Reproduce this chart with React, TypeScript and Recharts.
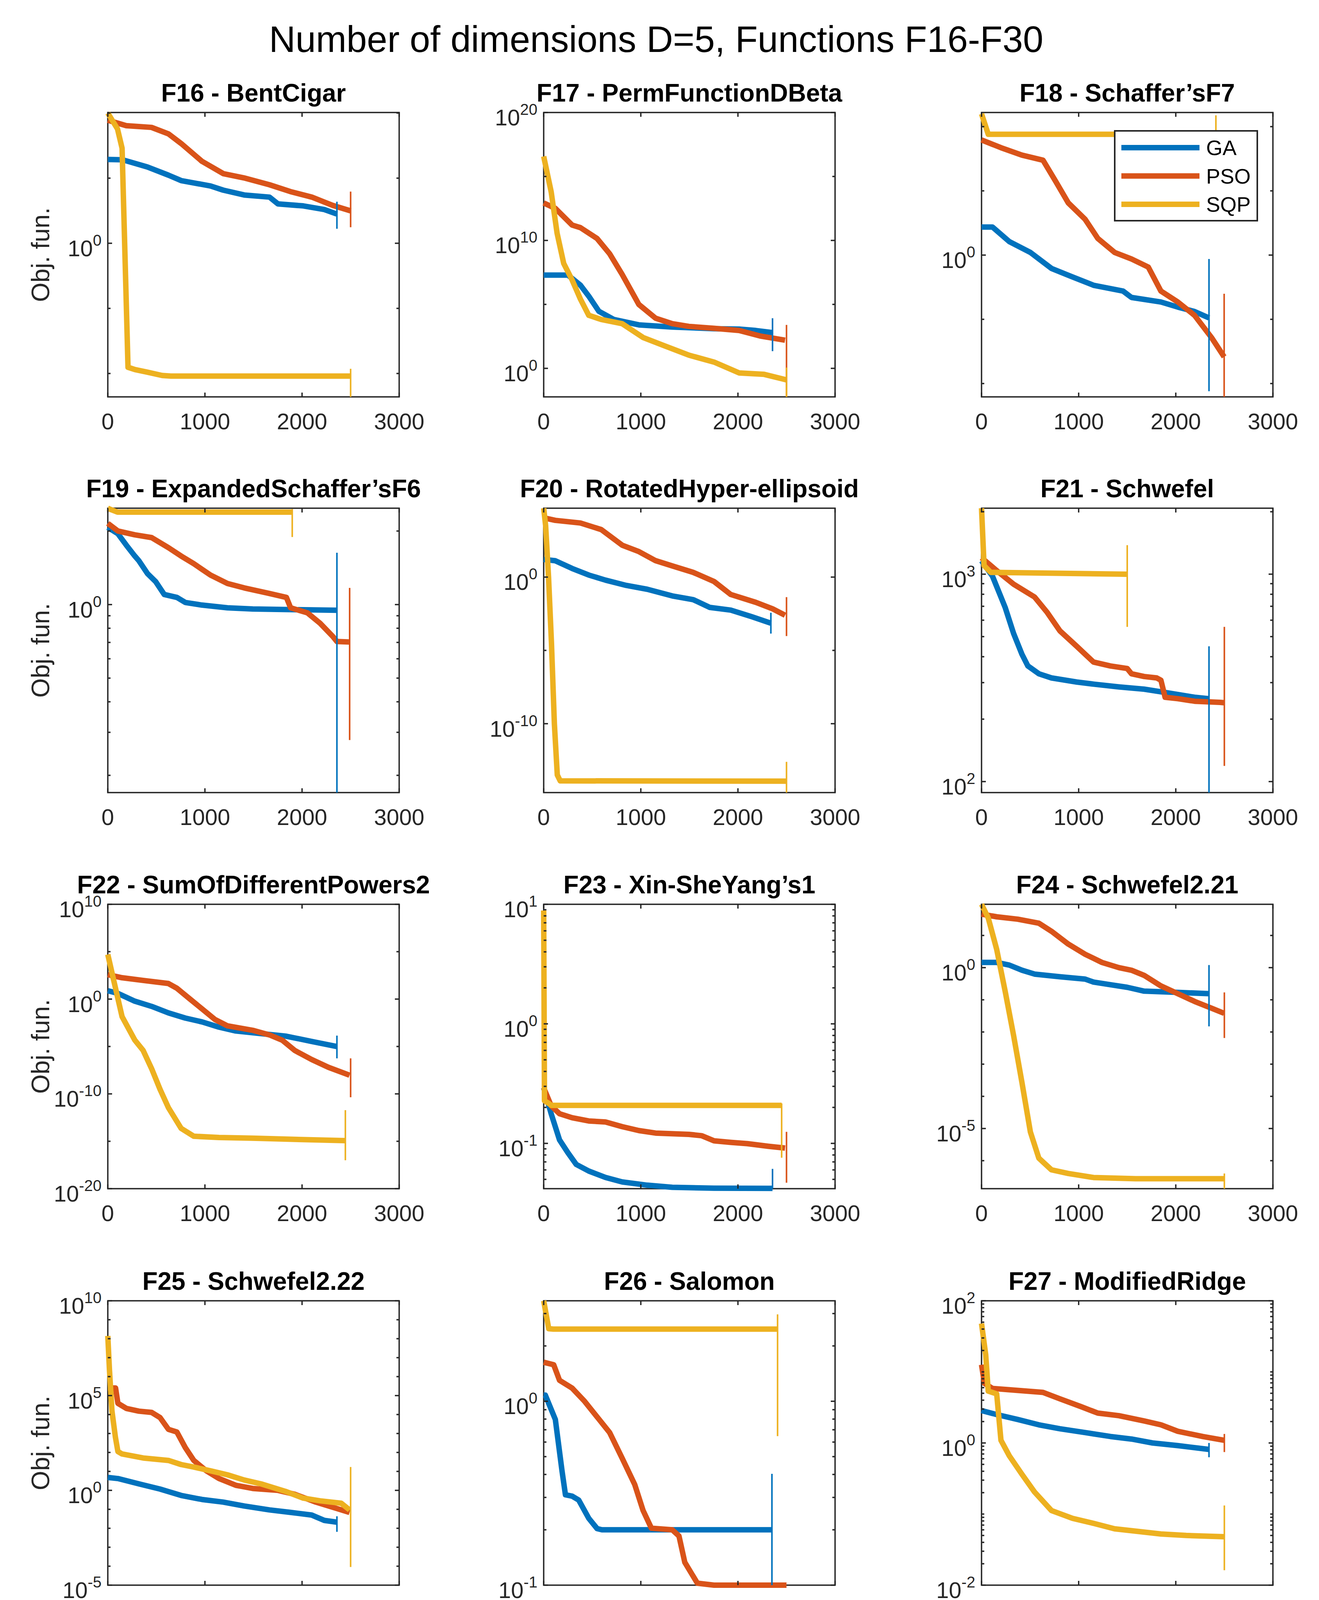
import React from 'react';
import { LineChart, Line, XAxis, YAxis, ReferenceArea, Legend } from 'recharts';

type Pt = [number, number];
type End = [string, number, number, number];

const FONT = '"Liberation Sans", Arial, Helvetica, sans-serif';
const AX = '#262626';
const SERIES_NAMES = ['GA', 'PSO', 'SQP'];
const SERIES_COLORS: Record<string, string> = { GA: '#0072BD', PSO: '#D95319', SQP: '#EDB120' };

const FIG_TITLE = 'Number of dimensions D=5, Functions F16-F30';
const Y_LABEL = 'Obj. fun.';
const X_LABEL = 'Function evaluations';
const X_TICKS = [0, 1000, 2000, 3000];

// ---------------- data ----------------
const F16_GA: Pt[] = [[0, 2.7e6], [150, 2.6e6], [408, 7.2e5], [624, 1.7e5], [755, 6.5e4], [1058, 2.5e4], [1188, 1.2e4], [1405, 5.1e3], [1665, 3.5e3], [1752, 1.05e3], [2012, 740], [2229, 390], [2359, 175]];
const F16_PSO: Pt[] = [[0, 2.8e9], [190, 1.07e9], [450, 7.9e8], [625, 2.5e8], [755, 4.6e7], [970, 1.95e6], [1190, 2.2e5], [1400, 1.05e5], [1665, 3.1e4], [1880, 9.3e3], [2100, 3.5e3], [2315, 810], [2500, 310]];
const F16_SQP: Pt[] = [[0, 1e10], [100, 6e8], [147, 2e7], [165, 220], [185, 7e-4], [208, 3e-10], [280, 2e-10], [400, 1.3e-10], [560, 7e-11], [650, 6.3e-11], [2500, 6.3e-11]];
const F16_END: End[] = [['GA', 2359, 1.55e3, 13], ['PSO', 2500, 9.3e3, 17], ['SQP', 2500, 2.3e-10, 1.6e-12]];
const F16_TICKS = [1e-10, 1e-5, 1, 1e5, 1e10];
const F16_LABELS = [1];

const F17_GA: Pt[] = [[0, 1.95e7], [250, 1.95e7], [378, 3.2e6], [464, 4.4e5], [568, 2.9e4], [722, 6.6e3], [980, 2.5e3], [1324, 1.7e3], [1754, 1.26e3], [2012, 1.17e3], [2184, 910], [2356, 620]];
const F17_PSO: Pt[] = [[0, 8.5e12], [120, 3.2e12], [292, 1.6e11], [378, 1e11], [550, 1.4e10], [679, 9.1e8], [808, 2.2e7], [980, 9.8e4], [1152, 8.3e3], [1324, 3.1e3], [1496, 1.9e3], [1754, 1.35e3], [2012, 910], [2227, 340], [2485, 160]];
const F17_SQP: Pt[] = [[0, 3.7e16], [77, 6.3e13], [138, 3.7e10], [206, 1.6e8], [292, 8.3e6], [378, 2.6e5], [464, 1.4e4], [593, 6.6e3], [808, 3.1e3], [1023, 260], [1238, 60], [1496, 10.7], [1754, 3.1], [2012, 0.44], [2270, 0.34], [2500, 0.126]];
const F17_END: End[] = [['GA', 2356, 8.3e3, 22], ['PSO', 2500, 2.5e3, 5.9e-3], ['SQP', 2500, 1.15, 5.9e-3]];
const F17_TICKS = [1, 1e5, 1e10, 1e15, 1e20];
const F17_LABELS = [1, 1e10, 1e20];

const F18_GA: Pt[] = [[0, 2.73], [113, 2.73], [286, 1.62], [503, 1.1], [720, 0.62], [937, 0.457], [1153, 0.339], [1457, 0.275], [1544, 0.219], [1847, 0.186], [2021, 0.155], [2194, 0.132], [2342, 0.105]];
const F18_PSO: Pt[] = [[0, 62], [200, 47], [416, 36], [633, 30], [763, 14.1], [893, 6.5], [1067, 3.6], [1197, 1.82], [1370, 1.1], [1544, 0.87], [1717, 0.65], [1847, 0.275], [2021, 0.186], [2194, 0.115], [2368, 0.052], [2498, 0.026]];
const F18_SQP: Pt[] = [[0, 158], [69, 76], [2413, 76]];
const F18_END: End[] = [['GA', 2342, 0.87, 7.6e-3], ['PSO', 2498, 0.25, 6.2e-3], ['SQP', 2413, 150, 20]];
const F18_TICKS = [0.01, 0.1, 1, 10, 100];
const F18_LABELS = [1];

const F19_GA: Pt[] = [[0, 2.07], [104, 1.95], [191, 1.75], [278, 1.58], [321, 1.51], [408, 1.34], [494, 1.24], [581, 1.1], [711, 1.07], [798, 1.02], [971, 0.995], [1232, 0.97], [1492, 0.959], [1925, 0.953], [2359, 0.948]];
const F19_PSO: Pt[] = [[0, 2.15], [104, 2.0], [278, 1.93], [451, 1.88], [624, 1.71], [755, 1.58], [885, 1.47], [1058, 1.32], [1232, 1.22], [1405, 1.17], [1665, 1.11], [1839, 1.07], [1882, 0.97], [2055, 0.925], [2186, 0.838], [2316, 0.741], [2359, 0.706], [2490, 0.703]];
const F19_SQP: Pt[] = [[0, 2.48], [30, 2.45], [100, 2.39], [1899, 2.39]];
const F19_END: End[] = [['GA', 2359, 1.63, 0.17], ['PSO', 2490, 1.17, 0.279], ['SQP', 1899, 2.46, 1.89]];
const F19_TICKS = [0.2, 0.3, 0.4, 0.5, 0.6, 0.7, 0.8, 0.9, 1, 2];
const F19_LABELS = [1];

const F20_GA: Pt[] = [[0, 16], [120, 13], [292, 3.9], [464, 1.38], [636, 0.62], [851, 0.27], [1066, 0.148], [1324, 0.052], [1539, 0.029], [1711, 8.5e-3], [1926, 5.6e-3], [2141, 2e-3], [2339, 7.2e-4]];
const F20_PSO: Pt[] = [[0, 1.1e4], [120, 7.4e3], [378, 4.9e3], [593, 1.74e3], [808, 150], [980, 55], [1152, 13.2], [1324, 5.8], [1539, 2.1], [1754, 0.5], [1926, 0.065], [2184, 0.019], [2356, 6.9e-3], [2485, 2.5e-3]];
const F20_SQP: Pt[] = [[0, 5e4], [20, 3.2e3], [50, 1], [80, 3.2e-5], [110, 1e-10], [140, 3.2e-14], [170, 1.26e-14], [2500, 1.2e-14]];
const F20_END: End[] = [['GA', 2339, 3.7e-3, 1.4e-4], ['PSO', 2500, 0.043, 9.5e-5], ['SQP', 2500, 2.5e-13, 2e-15]];
const F20_TICKS = [1e-10, 1e-5, 1];
const F20_LABELS = [1e-10, 1];

const F21_GA: Pt[] = [[0, 1160], [113, 977], [243, 692], [330, 518], [416, 411], [477, 361], [590, 331], [720, 316], [980, 302], [1153, 295], [1414, 286], [1674, 279], [1934, 267], [2194, 255], [2342, 251]];
const F21_PSO: Pt[] = [[0, 1200], [156, 1040], [330, 895], [546, 776], [677, 653], [807, 533], [980, 449], [1067, 411], [1153, 377], [1327, 361], [1500, 351], [1544, 331], [1674, 321], [1804, 316], [1847, 308], [1890, 255], [2021, 251], [2194, 244], [2454, 241], [2500, 240]];
const F21_SQP: Pt[] = [[0, 2080], [26, 1100], [95, 1020], [1500, 1000]];
const F21_END: End[] = [['GA', 2342, 449, 88.5], ['PSO', 2500, 557, 119], ['SQP', 1500, 1380, 557]];
const F21_TICKS = [100, 200, 300, 400, 500, 600, 700, 800, 900, 1000, 2000];
const F21_LABELS = [100, 1000];

const F22_GA: Pt[] = [[0, 7.6], [104, 4.0], [278, 0.6], [451, 0.17], [624, 0.035], [798, 0.01], [971, 3.9e-3], [1145, 1.1e-3], [1318, 4.3e-4], [1578, 2.3e-4], [1839, 1.2e-4], [2099, 3.4e-5], [2359, 9.8e-6]];
const F22_PSO: Pt[] = [[0, 380], [147, 178], [364, 93], [624, 44], [711, 14], [841, 1.12], [971, 0.091], [1102, 7.2e-3], [1232, 1.5e-3], [1492, 5.1e-4], [1665, 1.66e-4], [1795, 4.7e-5], [1925, 3.8e-6], [2099, 4.2e-7], [2272, 6.3e-8], [2489, 9.3e-9]];
const F22_SQP: Pt[] = [[0, 5.1e4], [61, 93], [147, 0.014], [278, 4.7e-5], [364, 3.8e-6], [451, 4.6e-8], [538, 3e-10], [624, 3.5e-12], [755, 2.3e-14], [885, 3.4e-15], [1145, 2.5e-15], [1492, 2.1e-15], [1925, 1.6e-15], [2446, 1.17e-15]];
const F22_END: End[] = [['GA', 2359, 1.4e-4, 5.6e-7], ['PSO', 2500, 5.6e-7, 4.4e-11], ['SQP', 2446, 1.9e-12, 1e-17]];
const F22_TICKS = [1e-20, 1e-15, 1e-10, 1e-5, 1, 1e5, 1e10];
const F22_LABELS = [1e-20, 1e-10, 1, 1e10];

const F23_GA: Pt[] = [[0, 0.292], [77, 0.177], [163, 0.107], [249, 0.0836], [335, 0.0667], [464, 0.0587], [636, 0.0519], [808, 0.0476], [1066, 0.0447], [1324, 0.0429], [1754, 0.0422], [2356, 0.042]];
const F23_PSO: Pt[] = [[0, 0.292], [77, 0.206], [163, 0.177], [292, 0.164], [464, 0.154], [636, 0.151], [808, 0.138], [980, 0.128], [1152, 0.122], [1496, 0.119], [1625, 0.116], [1754, 0.105], [1926, 0.102], [2098, 0.0995], [2313, 0.0946], [2485, 0.0914]];
const F23_SQP: Pt[] = [[0, 8.87], [8, 0.2275], [52, 0.216], [80, 0.208], [2450, 0.208]];
const F23_END: End[] = [['GA', 2356, 0.0612, 0.0418], ['PSO', 2500, 0.125, 0.0469], ['SQP', 2450, 0.216, 0.0759]];
const F23_TICKS = [0.05, 0.06, 0.07, 0.08, 0.09, 0.1, 0.2, 0.3, 0.4, 0.5, 0.6, 0.7, 0.8, 0.9, 1, 2, 3, 4, 5, 6, 7, 8, 9, 10];
const F23_LABELS = [0.1, 1, 10];

const F24_GA: Pt[] = [[0, 1.45], [156, 1.45], [286, 1.2], [416, 0.83], [546, 0.63], [807, 0.52], [1067, 0.44], [1153, 0.355], [1327, 0.295], [1500, 0.245], [1674, 0.186], [2021, 0.17], [2342, 0.155]];
const F24_PSO: Pt[] = [[0, 46], [156, 38], [373, 32], [590, 24], [720, 13.5], [893, 5.4], [1067, 2.6], [1240, 1.45], [1414, 1.0], [1544, 0.83], [1674, 0.575], [1847, 0.27], [2021, 0.155], [2194, 0.089], [2368, 0.055], [2498, 0.038]];
const F24_SQP: Pt[] = [[0, 93], [69, 35], [156, 3.7], [243, 0.186], [330, 7.8e-3], [416, 2.7e-4], [503, 7.8e-6], [590, 1.2e-6], [720, 5.2e-7], [893, 4e-7], [1153, 3e-7], [1587, 2.75e-7], [2498, 2.75e-7]];
const F24_END: End[] = [['GA', 2342, 1.2, 0.015], ['PSO', 2500, 0.17, 6.5e-3], ['SQP', 2500, 4e-7, 1.35e-7]];
const F24_TICKS = [1e-6, 1e-5, 1e-4, 1e-3, 0.01, 0.1, 1, 10];
const F24_LABELS = [1e-5, 1];

const F25_GA: Pt[] = [[0, 4.8], [104, 4.2], [321, 2.2], [538, 1.17], [755, 0.54], [971, 0.33], [1188, 0.24], [1405, 0.15], [1665, 0.093], [1882, 0.069], [2099, 0.05], [2229, 0.026], [2359, 0.021]];
const F25_PSO: Pt[] = [[0, 2.5e5], [80, 2.5e5], [104, 3.9e4], [191, 2.1e4], [321, 1.5e4], [451, 1.3e4], [538, 6.9e3], [624, 1.66e3], [711, 1.2e3], [798, 180], [885, 38], [1015, 10.7], [1145, 4.2], [1318, 1.86], [1492, 1.26], [1752, 1.0], [1925, 0.62], [2142, 0.24], [2359, 0.11], [2489, 0.069]];
const F25_SQP: Pt[] = [[0, 1.4e8], [17, 2.3e6], [43, 1.5e4], [78, 650], [104, 112], [147, 83], [364, 51], [624, 38], [755, 23], [885, 17], [1058, 10.7], [1232, 6.6], [1405, 3.5], [1578, 2.2], [1839, 0.85], [2012, 0.39], [2186, 0.28], [2403, 0.21], [2489, 0.093]];
const F25_END: End[] = [['GA', 2359, 0.043, 6.5e-3], ['SQP', 2500, 17, 9.1e-5]];
const F25_TICKS = [1e-5, 1e-4, 1e-3, 0.01, 0.1, 1, 10, 100, 1e3, 1e4, 1e5, 1e6, 1e7, 1e8, 1e9, 1e10];
const F25_LABELS = [1e-5, 1, 1e5, 1e10];

const F26_GA: Pt[] = [[0, 1.08], [17, 1.08], [120, 0.796], [189, 0.417], [224, 0.31], [292, 0.305], [361, 0.29], [464, 0.231], [550, 0.203], [600, 0.2], [2350, 0.2]];
const F26_PSO: Pt[] = [[0, 1.63], [103, 1.58], [163, 1.3], [292, 1.18], [421, 1.0], [550, 0.822], [679, 0.676], [808, 0.49], [937, 0.353], [1023, 0.255], [1109, 0.204], [1324, 0.2], [1393, 0.185], [1453, 0.133], [1582, 0.1025], [1754, 0.1], [2500, 0.1]];
const F26_SQP: Pt[] = [[0, 3.52], [52, 2.48], [100, 2.47], [2408, 2.47]];
const F26_END: End[] = [['GA', 2350, 0.403, 0.1], ['SQP', 2408, 2.97, 0.646]];
const F26_TICKS = [0.1, 0.2, 0.3, 0.4, 0.5, 0.6, 0.7, 0.8, 0.9, 1, 2, 3];
const F26_LABELS = [0.1, 1];

const F27_GA: Pt[] = [[0, 2.86], [156, 2.51], [373, 2.14], [590, 1.8], [807, 1.585], [1067, 1.4], [1327, 1.233], [1544, 1.135], [1761, 1.0], [2021, 0.918], [2342, 0.811]];
const F27_PSO: Pt[] = [[0, 12.6], [30, 6.9], [113, 5.85], [286, 5.61], [633, 5.15], [807, 4.18], [1023, 3.25], [1197, 2.63], [1414, 2.42], [1674, 2.04], [1847, 1.8], [2021, 1.46], [2281, 1.23], [2498, 1.09]];
const F27_SQP: Pt[] = [[0, 47.9], [43, 17.4], [69, 5.37], [156, 4.9], [200, 1.09], [286, 0.66], [416, 0.363], [546, 0.204], [720, 0.112], [937, 0.087], [1153, 0.074], [1370, 0.062], [1587, 0.0575], [1847, 0.0525], [2108, 0.05], [2498, 0.048]];
const F27_END: End[] = [['GA', 2342, 1.0, 0.63], ['PSO', 2500, 1.34, 0.745], ['SQP', 2500, 0.132, 0.0162]];
const F27_TICKS = [0.01, 0.02, 0.03, 0.04, 0.05, 0.06, 0.07, 0.08, 0.09, 0.1, 0.2, 0.3, 0.4, 0.5, 0.6, 0.7, 0.8, 0.9, 1, 2, 3, 4, 5, 6, 7, 8, 9, 10, 20, 30, 40, 50, 60, 70, 80, 90, 100];
const F27_LABELS = [0.01, 1, 100];

const F28_GA: Pt[] = [[0, 29.5], [61, 19], [147, 6.5], [278, 3.4], [451, 1.74], [624, 0.91], [798, 0.59], [1015, 0.31], [1232, 0.162], [1492, 0.068], [1752, 0.035], [1969, 0.0186], [2186, 9.8e-3], [2342, 5.1e-3]];
const F28_PSO: Pt[] = [[0, 132], [191, 69], [408, 36], [624, 19], [885, 6.5], [1058, 2.2], [1232, 0.59], [1492, 0.2], [1708, 0.105], [1882, 0.045], [2055, 9.8e-3], [2229, 2.1e-3], [2359, 5.9e-4], [2489, 3e-4]];
const F28_SQP: Pt[] = [[0, 7.1e4], [43, 19], [78, 3.3e-3], [121, 6.6e-8], [165, 1e-10], [217, 8.5e-13], [278, 7.9e-14], [408, 4.2e-14], [624, 3e-14], [2489, 2.95e-14]];
const F28_END: End[] = [['GA', 2342, 0.115, 3e-4], ['PSO', 2500, 6.3e-3, 1.8e-5], ['SQP', 2500, 1.26e-13, 1.74e-15]];
const F28_TICKS = [1e-10, 1e-5, 1];
const F28_LABELS = [1e-10, 1];

// F29 / F30 values are shown in units of 10^4
const F29_GA: Pt[] = [[0, 1], [2350, 1]];
const F29_PSO: Pt[] = [[20, 1], [2500, 1]];
const F29_SQP: Pt[] = [[0, 1.000000472], [8, 1]];
const F29_END: End[] = [];
const F29_TICKS = [1, 1.00000005, 1.0000001, 1.00000015, 1.0000002, 1.00000025, 1.0000003, 1.00000035, 1.0000004, 1.00000045];
const F29_LABELS = [1, 1.0000001, 1.0000002, 1.0000003, 1.0000004];
const F29_LABEL_TEXT = ['1', '1.0000001', '1.0000002', '1.0000003', '1.0000004'];

const F30_GA: Pt[] = [[0, 1.0343], [113, 1.026], [156, 1.0164], [243, 1.0081], [373, 1.0043], [633, 1.0024], [1153, 1.0021], [2342, 1.002]];
const F30_PSO: Pt[] = [[0, 1.033], [156, 1.0302], [373, 1.0246], [633, 1.0178], [893, 1.0123], [1153, 1.0087], [1587, 1.0068], [2021, 1.0054], [2498, 1.0041]];
const F30_SQP: Pt[] = [[0, 1.3273], [26, 1.2145], [43, 1.1632], [69, 1.1382], [130, 1.1346], [1153, 1.1346]];
const F30_END: End[] = [['PSO', 2500, 1.0081, 1.0019], ['SQP', 1153, 1.2955, 1.0019]];
const F30_TICKS = [1.025, 1.05, 1.075, 1.1, 1.125, 1.15, 1.175, 1.2, 1.225, 1.25, 1.275, 1.3, 1.325];
const F30_LABELS = [1.05, 1.1, 1.15, 1.2, 1.25, 1.3];
const F30_LABEL_TEXT = ['1.05', '1.1', '1.15', '1.2', '1.25', '1.3'];

interface PanelDef {
  title: string;
  scale: 'log' | 'linear';
  domain: [number, number];
  ticks: number[];
  labels: number[];
  labelText?: string[];
  ga: Pt[]; pso: Pt[]; sqp: Pt[]; ends: End[];
  legend?: boolean;
  multiplier?: string;
}

const PANELS: PanelDef[] = [
  { title: 'F16 - BentCigar', scale: 'log', domain: [1.6e-12, 1.1e10], ticks: F16_TICKS, labels: F16_LABELS, ga: F16_GA, pso: F16_PSO, sqp: F16_SQP, ends: F16_END },
  { title: 'F17 - PermFunctionDBeta', scale: 'log', domain: [5.9e-3, 1e20], ticks: F17_TICKS, labels: F17_LABELS, ga: F17_GA, pso: F17_PSO, sqp: F17_SQP, ends: F17_END },
  { title: 'F18 - Schaffer\u2019sF7', scale: 'log', domain: [6.2e-3, 166], ticks: F18_TICKS, labels: F18_LABELS, ga: F18_GA, pso: F18_PSO, sqp: F18_SQP, ends: F18_END, legend: true },
  { title: 'F19 - ExpandedSchaffer\u2019sF6', scale: 'log', domain: [0.17, 2.48], ticks: F19_TICKS, labels: F19_LABELS, ga: F19_GA, pso: F19_PSO, sqp: F19_SQP, ends: F19_END },
  { title: 'F20 - RotatedHyper-ellipsoid', scale: 'log', domain: [2e-15, 5e4], ticks: F20_TICKS, labels: F20_LABELS, ga: F20_GA, pso: F20_PSO, sqp: F20_SQP, ends: F20_END },
  { title: 'F21 - Schwefel', scale: 'log', domain: [88.5, 2080], ticks: F21_TICKS, labels: F21_LABELS, ga: F21_GA, pso: F21_PSO, sqp: F21_SQP, ends: F21_END },
  { title: 'F22 - SumOfDifferentPowers2', scale: 'log', domain: [1e-20, 1e10], ticks: F22_TICKS, labels: F22_LABELS, ga: F22_GA, pso: F22_PSO, sqp: F22_SQP, ends: F22_END },
  { title: 'F23 - Xin-SheYang\u2019s1', scale: 'log', domain: [0.0418, 10], ticks: F23_TICKS, labels: F23_LABELS, ga: F23_GA, pso: F23_PSO, sqp: F23_SQP, ends: F23_END },
  { title: 'F24 - Schwefel2.21', scale: 'log', domain: [1.35e-7, 93], ticks: F24_TICKS, labels: F24_LABELS, ga: F24_GA, pso: F24_PSO, sqp: F24_SQP, ends: F24_END },
  { title: 'F25 - Schwefel2.22', scale: 'log', domain: [1e-5, 1e10], ticks: F25_TICKS, labels: F25_LABELS, ga: F25_GA, pso: F25_PSO, sqp: F25_SQP, ends: F25_END },
  { title: 'F26 - Salomon', scale: 'log', domain: [0.1, 3.52], ticks: F26_TICKS, labels: F26_LABELS, ga: F26_GA, pso: F26_PSO, sqp: F26_SQP, ends: F26_END },
  { title: 'F27 - ModifiedRidge', scale: 'log', domain: [0.01, 100], ticks: F27_TICKS, labels: F27_LABELS, ga: F27_GA, pso: F27_PSO, sqp: F27_SQP, ends: F27_END },
  { title: 'F28 - Zakharov', scale: 'log', domain: [1.74e-15, 7.1e4], ticks: F28_TICKS, labels: F28_LABELS, ga: F28_GA, pso: F28_PSO, sqp: F28_SQP, ends: F28_END },
  { title: 'F29 - MdXSY\u2019s3', scale: 'linear', domain: [1, 1.000000472], ticks: F29_TICKS, labels: F29_LABELS, labelText: F29_LABEL_TEXT, ga: F29_GA, pso: F29_PSO, sqp: F29_SQP, ends: F29_END, multiplier: '4' },
  { title: 'F30 - MdXSY\u2019s5', scale: 'log', domain: [1.0019, 1.3273], ticks: F30_TICKS, labels: F30_LABELS, labelText: F30_LABEL_TEXT, ga: F30_GA, pso: F30_PSO, sqp: F30_SQP, ends: F30_END, multiplier: '4' },
];

// ---------------- layout ----------------
const PAGE_W = 3377, PAGE_H = 5295;
const COL_LEFT = [276, 1392, 2513];
const ROW_TOP = [288, 1301, 2315, 3330, 4346];
const PW = 746, PH = 728;
const ML = 270, MR = 100, MT = 130, MB = 140;
const TICK_FS = 58, SUP_FS = 40, TITLE_FS = 64, LABEL_FS = 64, FIG_FS = 94;
const MAJOR_LEN = 11, MINOR_LEN = 7, AX_W = 3.5;
const LINE_W = 14, END_W = 4;

const toPts = (a: Pt[]) => a.map(([x, y]) => ({ x, y }));

const isLabel = (p: PanelDef, v: number) => p.labels.findIndex((l) => Math.abs(l - v) <= 1e-9 * Math.abs(l));

const makeYTick = (p: PanelDef) => (props: any) => {
  const { x, y, payload } = props;
  const v = payload.value as number;
  const li = isLabel(p, v);
  const len = li >= 0 ? MAJOR_LEN : MINOR_LEN;
  let label: React.ReactNode = null;
  if (li >= 0) {
    if (p.labelText) {
      label = (
        <text x={x - 16} y={y + 21} textAnchor="end" fontFamily={FONT} fontSize={TICK_FS} fill={AX}>{p.labelText[li]}</text>
      );
    } else {
      const e = Math.round(Math.log10(v));
      label = (
        <text x={x - 16} y={y + 33} textAnchor="end" fontFamily={FONT} fill={AX}>
          <tspan fontSize={TICK_FS}>10</tspan>
          <tspan fontSize={SUP_FS} dy={-27}>{String(e)}</tspan>
        </text>
      );
    }
  }
  return (
    <g>
      <line x1={x} x2={x + len} y1={y} y2={y} stroke={AX} strokeWidth={AX_W} />
      <line x1={x + PW} x2={x + PW - len} y1={y} y2={y} stroke={AX} strokeWidth={AX_W} />
      {label}
    </g>
  );
};

const XTick = (props: any) => {
  const { x, y, payload } = props;
  return (
    <g>
      <line x1={x} x2={x} y1={y} y2={y - MAJOR_LEN} stroke={AX} strokeWidth={AX_W} />
      <line x1={x} x2={x} y1={y - PH} y2={y - PH + MAJOR_LEN} stroke={AX} strokeWidth={AX_W} />
      <text x={x} y={y + 83} textAnchor="middle" fontFamily={FONT} fontSize={TICK_FS} fill={AX}>{String(payload.value)}</text>
    </g>
  );
};

const LegendContent = (props: any) => {
  const items = (props.payload || []).filter((e: any) => SERIES_NAMES.includes(e.value));
  return (
    <svg width={369} height={234} style={{ display: 'block' }}>
      <rect x={2} y={2} width={365} height={230} fill="#ffffff" stroke={AX} strokeWidth={4} />
      {items.map((e: any, i: number) => {
        const cy = 45 + i * 72.5;
        return (
          <g key={e.value}>
            <line x1={19} x2={219} y1={cy} y2={cy} stroke={e.color} strokeWidth={LINE_W} />
            <text x={236} y={cy + 19} fontFamily={FONT} fontSize={54} fill="#000">{e.value}</text>
          </g>
        );
      })}
    </svg>
  );
};

function Panel({ p, idx }: { p: PanelDef; idx: number }) {
  const col = idx % 3, row = Math.floor(idx / 3);
  const left = COL_LEFT[col] - ML;
  const top = ROW_TOP[row] - MT;
  return (
    <div style={{ position: 'absolute', left, top }}>
      <LineChart width={PW + ML + MR} height={PH + MT + MB} margin={{ top: MT, right: MR, bottom: MB - 1, left: ML - 1 }}>
        <XAxis dataKey="x" type="number" domain={[0, 3000]} ticks={X_TICKS} interval={0} tick={XTick} tickSize={0} tickMargin={0} axisLine={false} tickLine={false} height={1} />
        <YAxis type="number" scale={p.scale} domain={p.domain} ticks={p.ticks} interval={0} tick={makeYTick(p)} tickSize={0} tickMargin={0} axisLine={false} tickLine={false} width={1} />
        <ReferenceArea x1={0} x2={3000} y1={p.domain[0]} y2={p.domain[1]} fill="none" fillOpacity={0} stroke={AX} strokeWidth={AX_W} />
        <Line data={toPts(p.ga)} dataKey="y" name="GA" stroke={SERIES_COLORS.GA} strokeWidth={LINE_W} strokeLinejoin="round" dot={false} activeDot={false} isAnimationActive={false} />
        <Line data={toPts(p.pso)} dataKey="y" name="PSO" stroke={SERIES_COLORS.PSO} strokeWidth={LINE_W} strokeLinejoin="round" dot={false} activeDot={false} isAnimationActive={false} />
        <Line data={toPts(p.sqp)} dataKey="y" name="SQP" stroke={SERIES_COLORS.SQP} strokeWidth={LINE_W} strokeLinejoin="round" dot={false} activeDot={false} isAnimationActive={false} />
        {p.ends.map(([s, x, y1, y2], i) => (
          <Line key={'end' + i} data={[{ x, y: y1 }, { x, y: y2 }]} dataKey="y" name={s + ' end'} legendType="none" stroke={SERIES_COLORS[s]} strokeWidth={END_W} dot={false} activeDot={false} isAnimationActive={false} />
        ))}
        {p.legend && (
          <Legend layout="horizontal" verticalAlign="middle" align="center" content={LegendContent}
            wrapperStyle={{ left: 2852 - left, top: 333 - top, width: 369, height: 234 }} />
        )}
      </LineChart>
    </div>
  );
}

export default function App() {
  return (
    <div style={{ position: 'relative', width: PAGE_W, height: PAGE_H, background: '#ffffff', overflow: 'hidden' }}>
      <style>{'body{margin:0;}'}</style>
      {PANELS.map((p, i) => <Panel key={p.title} p={p} idx={i} />)}
      <svg width={PAGE_W} height={PAGE_H} style={{ position: 'absolute', left: 0, top: 0, pointerEvents: 'none' }}>
        <text x={1680} y={133} textAnchor="middle" fontFamily={FONT} fontSize={FIG_FS} fill="#000">{FIG_TITLE}</text>
        {PANELS.map((p, i) => {
          const col = i % 3, row = Math.floor(i / 3);
          const cx = COL_LEFT[col] + PW / 2;
          return (
            <g key={'t' + i}>
              <text x={cx} y={ROW_TOP[row] - 28} textAnchor="middle" fontFamily={FONT} fontWeight="bold" fontSize={TITLE_FS} fill="#000">{p.title}</text>
              {p.multiplier && (
                <text x={COL_LEFT[col] + 7} y={ROW_TOP[row] - 15} fontFamily={FONT} fill={AX}>
                  <tspan fontSize={TICK_FS}>{'\u00D710'}</tspan>
                  <tspan fontSize={SUP_FS} dy={-38}>{p.multiplier}</tspan>
                </text>
              )}
            </g>
          );
        })}
        {ROW_TOP.map((t, r) => (
          <text key={'yl' + r} transform={`translate(126, ${t + PH / 2}) rotate(-90)`} textAnchor="middle" fontFamily={FONT} fontSize={LABEL_FS} fill={AX}>{Y_LABEL}</text>
        ))}
        {COL_LEFT.map((l, c) => (
          <text key={'xl' + c} x={l + PW / 2} y={5244} textAnchor="middle" fontFamily={FONT} fontSize={LABEL_FS} fill={AX}>{X_LABEL}</text>
        ))}
      </svg>
    </div>
  );
}
